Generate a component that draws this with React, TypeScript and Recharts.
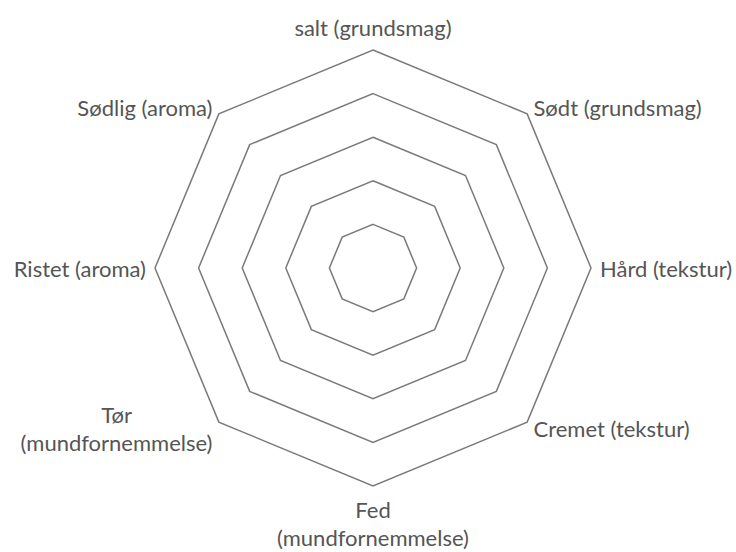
import { RadarChart, Radar, PolarGrid, PolarAngleAxis, PolarRadiusAxis } from "recharts";

// axes clockwise from the top; "\n" marks where the label wraps
const categories = [
  "salt (grundsmag)",
  "Sødt (grundsmag)",
  "Hård (tekstur)",
  "Cremet (tekstur)",
  "Fed\n(mundfornemmelse)",
  "Tør\n(mundfornemmelse)",
  "Ristet (aroma)",
  "Sødlig (aroma)"
];
// no profile is drawn in the reference, only the grid
const scores = [0, 0, 0, 0, 0, 0, 0, 0];
const levels = [0, 1, 2, 3, 4, 5];

const CX = 373;
const CY = 268;
const R = 218;
const FONT = "Lato, 'Open Sans', sans-serif";
const FONT_SIZE = 22;
const LINE_H = 28;
const GAP = 9;

const data = categories.map((c, i) => ({ subject: c, score: scores[i] }));

let ctx: CanvasRenderingContext2D | null = null;
function textWidth(s: string) {
  if (!ctx) ctx = document.createElement("canvas").getContext("2d");
  if (!ctx) return s.length * FONT_SIZE * 0.5;
  ctx.font = `${FONT_SIZE}px Lato`;
  return ctx.measureText(s).width;
}

function AxisLabel(props: any) {
  const { payload } = props;
  const lines: string[] = String(payload.value).split("\n");
  const a = (payload.coordinate * Math.PI) / 180;
  const cos = Math.cos(a);
  const sin = Math.sin(a);
  const px = CX + (R + GAP) * cos;
  const py = CY - (R + GAP) * sin;
  const blockH = lines.length * LINE_H;

  // vertical placement of the text block
  let top: number;
  if (sin > 0.9) top = py - blockH;
  else if (sin < -0.9) top = py;
  else top = py - blockH / 2;

  // horizontal: lines are centred on each other, block hangs off the point
  const maxW = Math.max(...lines.map(textWidth));
  let mid: number;
  if (cos > 0.1) mid = px + maxW / 2;
  else if (cos < -0.1) mid = px - maxW / 2;
  else mid = px;

  return (
    <g>
      {lines.map((ln, i) => (
        <text
          key={i}
          x={mid}
          y={top + LINE_H * i + LINE_H / 2}
          textAnchor="middle"
          dominantBaseline="central"
          fontFamily={FONT}
          fontSize={FONT_SIZE}
          fill="#555555"
        >
          {ln}
        </text>
      ))}
    </g>
  );
}

export default function App() {
  return (
    <div style={{ position: "absolute", left: 0, top: 0, width: 736, height: 552, background: "#fff" }}>
      <RadarChart
        width={736}
        height={552}
        data={data}
        cx={CX}
        cy={CY}
        outerRadius={R}
        margin={{ top: 0, right: 0, bottom: 0, left: 0 }}
      >
        <PolarGrid gridType="polygon" radialLines={false} stroke="#7a7a7a" strokeWidth={1.5} />
        <PolarAngleAxis dataKey="subject" tick={<AxisLabel />} tickLine={false} axisLine={false} />
        <PolarRadiusAxis
          domain={[levels[0], levels[levels.length - 1]]}
          ticks={levels as any}
          tickCount={levels.length}
          tick={false}
          axisLine={false}
        />
        <Radar dataKey="score" stroke="none" fill="none" dot={false} isAnimationActive={false} />
      </RadarChart>
    </div>
  );
}
